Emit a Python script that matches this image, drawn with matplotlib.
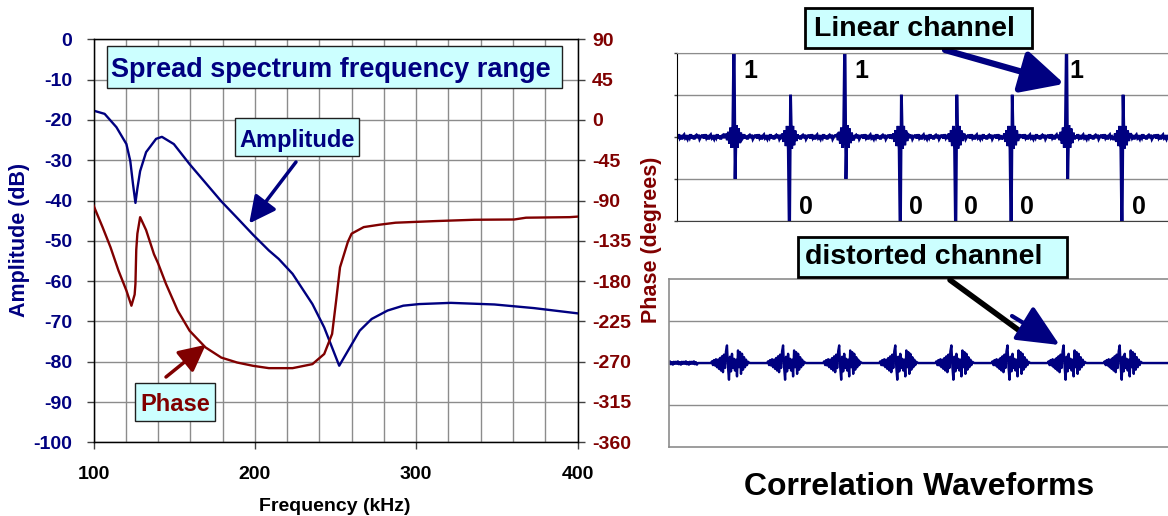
import numpy as np
import matplotlib
matplotlib.use("Agg")
import matplotlib.pyplot as plt
from matplotlib.patches import Rectangle
from matplotlib.ticker import MultipleLocator

plt.rcParams['font.family'] = ['Liberation Sans', 'DejaVu Sans']
plt.rcParams['font.weight'] = 'bold'
plt.rcParams['axes.unicode_minus'] = False

# ---------------- data: left chart ----------------
freq_amp = [100, 106.9, 114.2, 120.4, 122.8, 124.5, 126.0, 127.2, 128.9, 132.6,
            138.8, 142.4, 149.8, 159.6, 169.4, 179.2, 189.0, 198.9, 208.7, 214.8,
            223.4, 235.7, 243.0, 247.9, 252.3, 257.7, 265.0, 272.4, 282.3, 292.0,
            301.9, 321.5, 348.5, 373.0, 400]
amp_db = [-17.7, -18.5, -21.8, -26.0, -30.2, -36.0, -40.6, -37.0, -32.7, -28.0,
          -24.7, -24.2, -26.0, -31.0, -35.6, -40.2, -44.3, -48.5, -52.4, -54.5,
          -58.2, -65.7, -71.5, -76.5, -81.0, -77.3, -72.3, -69.4, -67.3, -66.1,
          -65.7, -65.4, -65.8, -66.7, -68.0]

freq_ph = [100, 105.6, 110.5, 115.5, 120.4, 123.5, 125.5, 126.0, 126.5, 127.2,
           128.9, 132.6, 137.5, 140.0, 144.9, 152.2, 159.6, 169.4, 179.2, 189.0,
           198.9, 208.7, 223.4, 235.7, 243.0, 247.9, 250.4, 252.8, 255.3, 257.7,
           260.0, 267.5, 277.4, 287.2, 311.7, 336.2, 360.8, 368.1, 395.1, 400]
phase_deg = [-95.5, -119.7, -142.0, -168.3, -190.6, -207.5, -195.0, -183.0, -145.0, -127.0,
             -108.6, -123.0, -150.0, -160.0, -183.0, -213.0, -235.5, -254.0, -265.4, -270.9,
             -274.6, -277.2, -277.2, -272.7, -261.4, -239.0, -201.8, -164.6, -150.0, -136.0,
             -127.0, -119.7, -117.0, -114.8, -113.0, -111.5, -111.2, -109.2, -108.6, -108.0]

amp_ticks = list(range(-100, 1, 10))
phase_ticks = list(range(-360, 91, 45))
freq_ticks = [100, 200, 300, 400]

# ---------------- data: correlation waveforms ----------------
bits = [1, 0, 1, 0, 0, 0, 1, 0]
bit_label_pos = [0.29, 1.30, 2.30, 3.28, 4.28, 5.29, 6.17, 7.30]
# linear channel correlation peak (samples every 0.02 symbol, centred)
linear_peak = [0.05, -0.08, 0.12, -0.16, 0.22, -0.26, 0.30, 2.60, -1.00, 0.28, -0.26,
               0.20, -0.15, 0.10, -0.06]
# baseline ripple of the linear channel
linear_ripple = [0.03, -0.04, 0.06, -0.02, 0.04, -0.06, 0.02, 0.05, -0.03, 0.00, -0.05, 0.04,
                 -0.02, 0.06, -0.04, 0.03, -0.06, 0.02, 0.04, -0.03, 0.05, -0.05, 0.00, 0.03]
# distorted channel burst (samples every 1/56 symbol, from -16 to +22)
distorted_burst = [0.04, -0.05, 0.07, -0.06, 0.09, -0.10, 0.08, -0.14, 0.12, -0.18,
                   0.16, -0.22, 0.20, -0.12, 0.28, 0.42, -0.10, -0.40, 0.15, -0.20,
                   0.22, -0.12, 0.10, -0.18, 0.08, -0.32, 0.30, -0.10, 0.26, -0.26,
                   0.22, -0.16, 0.14, -0.10, 0.08, -0.05, 0.03, 0.01, 0.0]
distorted_lead = [0.03, -0.02, 0.04, -0.03, 0.02, -0.04, 0.03, -0.02]

navy = '#000080'
maroon = '#800000'
grid_c = '#8c8c8c'
box_c = '#ccffff'

W, H = 1168, 516
def fx(x):
    return x / W
def fy(y):
    return 1 - y / H

fig = plt.figure(figsize=(11.68, 5.16), dpi=100)

# ---------------- left chart ----------------
ax = fig.add_axes([fx(93.5), fy(442.3), (577.5 - 93.5) / W, (442.3 - 39.3) / H])
ax.set_xlim(100, 400)
ax.set_ylim(-100, 0)
ax.set_xticks(freq_ticks)
ax.xaxis.set_minor_locator(MultipleLocator(20))
ax.set_yticks(amp_ticks)
ax.grid(which='both', axis='x', color=grid_c, lw=1.0)
ax.grid(which='major', axis='y', color=grid_c, lw=1.0)
ax.set_axisbelow(True)
ax.tick_params(axis='x', which='major', direction='out', length=5, width=1, color='#404040',
               pad=12, labelsize=14, labelcolor='black')
ax.tick_params(axis='x', which='minor', length=0)
ax.tick_params(axis='y', direction='out', length=5, width=1, color='#404040',
               pad=10.5, labelsize=14, labelcolor=navy)
for s in ax.spines.values():
    s.set_color('black')
    s.set_linewidth(1.0)
ax.plot(freq_amp, amp_db, color=navy, lw=1.7, zorder=3)

ax2 = ax.twinx()
ax2.set_ylim(-360, 90)
ax2.set_yticks(phase_ticks)
ax2.tick_params(axis='y', direction='out', length=5, width=1, color='#404040',
                pad=5.5, labelsize=14, labelcolor=maroon)
ax2.plot(freq_ph, phase_deg, color=maroon, lw=1.7, zorder=3)

for lab in ax.get_xticklabels() + ax.get_yticklabels() + ax2.get_yticklabels():
    lab.set_fontweight('bold')

# axis titles
fig.text(fx(335), fy(511), 'Frequency (kHz)', ha='center', va='baseline', fontsize=14,
         fontweight='bold', color='black')
fig.text(fx(20), fy(240), 'Amplitude (dB)', ha='center', va='center', rotation=90,
         fontsize=15.5, fontweight='bold', color=navy)
fig.text(fx(651), fy(240), 'Phase (degrees)', ha='center', va='center', rotation=90,
         fontsize=15.5, fontweight='bold', color=maroon)

def box(x0, y0, x1, y1, lw=1.0, ec='#202020'):
    fig.add_artist(Rectangle((fx(x0), fy(y1)), (x1 - x0) / W, (y1 - y0) / H,
                             transform=fig.transFigure, fc=box_c, ec=ec, lw=lw, zorder=4))

box(107, 46, 562, 88)
fig.text(fx(331), fy(77), 'Spread spectrum frequency range', ha='center', va='baseline',
         fontsize=19.5, fontweight='bold', color=navy, zorder=5)
box(235, 118, 359, 156)
fig.text(fx(297), fy(146.5), 'Amplitude', ha='center', va='baseline',
         fontsize=17, fontweight='bold', color=navy, zorder=5)
box(135, 383, 215, 421)
fig.text(fx(175), fy(410.7), 'Phase', ha='center', va='baseline',
         fontsize=17, fontweight='bold', color=maroon, zorder=5)

ax.annotate('', xy=(196.5, -45.7), xytext=(296, H - 162), textcoords='figure pixels',
            annotation_clip=False,
            arrowprops=dict(arrowstyle='-|>,head_length=0.9,head_width=0.45', lw=2.5,
                            color=navy, mutation_scale=18, shrinkA=0, shrinkB=0))
ax.annotate('', xy=(169.6, -75.8), xytext=(166, H - 377), textcoords='figure pixels',
            annotation_clip=False,
            arrowprops=dict(arrowstyle='-|>,head_length=0.9,head_width=0.45', lw=2.5,
                            color=maroon, mutation_scale=18, shrinkA=0, shrinkB=0))

# ---------------- top right: linear channel ----------------
axt = fig.add_axes([fx(677.3), fy(221), (W - 677.3) / W, (221 - 52.7) / H])
axt.set_xlim(-1.023, 7.83)
axt.set_ylim(-2, 2)
axt.set_xticks([])
axt.set_yticks([-2, -1, 0, 1, 2])
axt.set_yticklabels([])
axt.tick_params(axis='y', direction='out', length=2.5, width=1, color='#404040')
axt.grid(axis='y', color=grid_c, lw=1.0)
axt.set_axisbelow(True)
axt.spines['right'].set_visible(False)
axt.spines['top'].set_color(grid_c)
axt.spines['left'].set_color('black')
axt.spines['bottom'].set_color('#404040')

step_t = 0.02
idx = np.arange(-52, 394)
t_top = idx * step_t
sig_top = np.resize(np.array(linear_ripple), len(idx)).astype(float)
half = len(linear_peak) // 2
for k, b in enumerate(bits):
    c = 52 + 50 * k
    sgn = 1 if b == 1 else -1
    sig_top[c - half:c + half + 1] = sgn * np.array(linear_peak)
axt.plot(t_top, sig_top, color=navy, lw=2.1, solid_joinstyle='miter')

for k, b in enumerate(bits):
    yv = 1.56 if b == 1 else -1.67
    axt.text(bit_label_pos[k], yv, str(b), ha='center', va='center', fontsize=18,
             fontweight='bold', color='black')

box(805, 8, 1032, 48, lw=2.0, ec='black')
fig.text(fx(914), fy(36), 'Linear channel', ha='center', va='baseline',
         fontsize=20.5, fontweight='bold', color='black', zorder=5)
axt.annotate('', xy=(5.96, 1.26), xytext=(945, H - 50), textcoords='figure pixels',
             annotation_clip=False,
             arrowprops=dict(arrowstyle='-|>,head_length=1.3,head_width=0.65', lw=4.5,
                             color=navy, mutation_scale=20, shrinkA=0, shrinkB=0))

# ---------------- bottom right: distorted channel ----------------
axb = fig.add_axes([fx(669.3), fy(446.7), (W - 669.3) / W, (446.7 - 279.3) / H])
axb.set_xlim(-1.046, 7.843)
axb.set_ylim(-2, 2)
axb.set_xticks([])
axb.set_yticks([-1, 0, 1])
axb.set_yticklabels([])
axb.tick_params(axis='y', length=0)
axb.grid(axis='y', color=grid_c, lw=1.0)
axb.set_axisbelow(True)
axb.spines['right'].set_visible(False)
for sp in ['left', 'top', 'bottom']:
    axb.spines[sp].set_color('#8c8c8c')
    axb.spines[sp].set_linewidth(1.2)

ib = np.arange(-60, 442)
t_bot = ib / 56.0
sig_bot = np.zeros(len(ib))
lead = np.resize(np.array(distorted_lead), 30)
sig_bot[0:30] = lead
for k in range(len(bits)):
    c = 60 + 56 * k
    sig_bot[c - 16:c - 16 + len(distorted_burst)] = np.array(distorted_burst)
axb.plot(t_bot, sig_bot, color=navy, lw=1.7)

box(798, 237, 1067, 277, lw=2.0, ec='black')
fig.text(fx(805), fy(264), 'distorted channel', ha='left', va='baseline',
         fontsize=20.5, fontweight='bold', color='black', zorder=5)
axb.annotate('', xy=(5.35, 0.62), xytext=(950, H - 280), textcoords='figure pixels',
             annotation_clip=False,
             arrowprops=dict(arrowstyle='-', lw=4, color='black', shrinkA=0, shrinkB=0))
axb.annotate('', xy=(5.91, 0.43), xytext=(1012, H - 316), textcoords='figure pixels',
             annotation_clip=False,
             arrowprops=dict(arrowstyle='-|>,head_length=1.3,head_width=0.6', lw=3,
                             color=navy, mutation_scale=20, shrinkA=0, shrinkB=0))

fig.text(fx(919), fy(495), 'Correlation Waveforms', ha='center', va='baseline',
         fontsize=23, fontweight='bold', color='black')

fig.savefig('out.png', dpi=100)
